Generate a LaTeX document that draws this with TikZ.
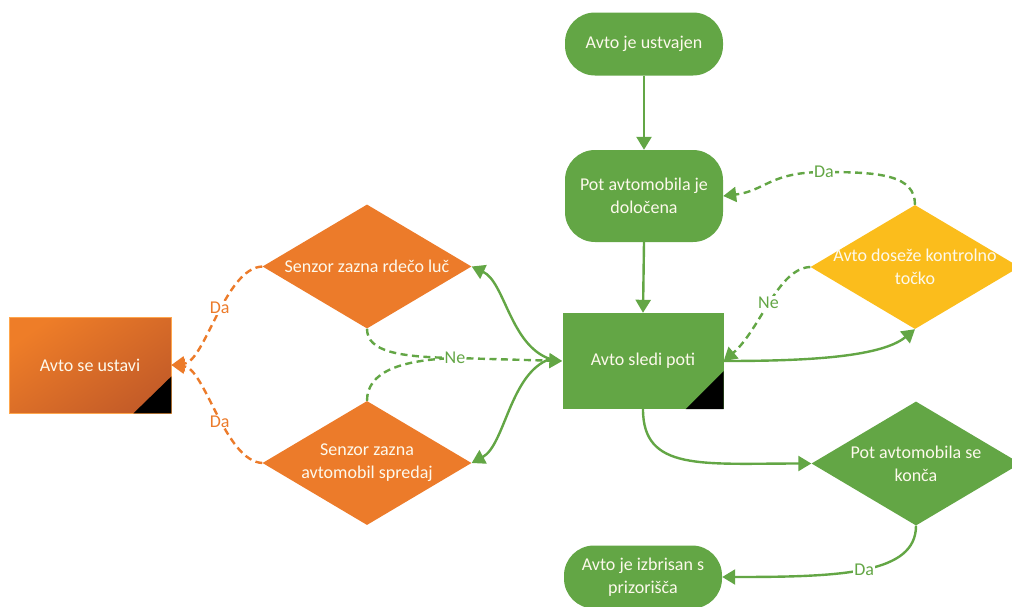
\documentclass[tikz,border=0pt]{standalone}
\usepackage{fontspec}
\setmainfont{Carlito}
\usetikzlibrary{shapes.geometric,arrows.meta,calc}

\definecolor{flowgreen}{RGB}{99,166,69}
\definecolor{floworange}{RGB}{236,123,42}
\definecolor{orangelight}{RGB}{238,125,40}
\definecolor{orangedark}{RGB}{196,92,40}
\definecolor{flowyellow}{RGB}{251,189,28}
\definecolor{textcream}{RGB}{253,249,236}

\begin{document}
\begin{tikzpicture}[x=1pt,y=-1pt,
  txt/.style={font=\fontsize{18}{23}\selectfont, text=textcream, align=center},
  term/.style={txt, fill=flowgreen, rounded corners=30pt, minimum width=158pt,
    inner sep=0pt},
  proc/.style={txt, minimum width=161pt, minimum height=96pt, inner sep=0pt},
  decision/.style={diamond, minimum width=209pt, minimum height=124pt,
    inner sep=0pt},
  tip/.style={-{Triangle[length=13pt,width=15pt]}},
  link/.style={line width=2.4pt, draw=flowgreen, tip},
  dlink/.style={link, dash pattern=on 7pt off 4.5pt},
  olink/.style={line width=2.4pt, draw=floworange, tip,
    dash pattern=on 7pt off 4.5pt},
  lbl/.style={font=\fontsize{18}{20}\selectfont, text=flowgreen, fill=white,
    inner sep=1pt},
  olbl/.style={lbl, text=floworange},
  corner/.style={fill=black}
]
\useasboundingbox (0,0) rectangle (1012,606);

% nodes of the main path
\node[term, minimum height=63pt] (ust) at (644,44) {Avto je ustvajen};
\node[term, minimum height=92pt] (pot) at (644,196) {Pot avtomobila je\\določena};
\node[proc, fill=flowgreen] (sledi) at (643,361) {Avto sledi poti};
\node[term, minimum height=63pt] (izb) at (643,577) {Avto je izbrisan s\\prizorišča};

% decisions
\node[decision, fill=flowyellow,
  label={[txt]center:Avto doseže kontrolno\\točko}] (dos) at (915,267) {};
\node[decision, fill=flowgreen,
  label={[txt]center:Pot avtomobila se\\konča}] (konca) at (916,463.5) {};
\node[decision, fill=floworange,
  label={[txt]center:Senzor zazna rdečo luč}] (rdeco) at (367,266.5) {};
\node[decision, fill=floworange,
  label={[txt]center:Senzor zazna\\avtomobil spredaj}] (spredaj) at (367,463) {};

% stop box
\node[proc, minimum width=162pt, draw=orange!70!white, line width=0.8pt,
  top color=orangelight, bottom color=orangedark, shading angle=35]
  (stop) at (90,365) {Avto se ustavi};

% folded corners
\fill[corner] (sledi.south east) -- ++(-38,0) -- ++(38,-38) -- cycle;
\fill[corner] (stop.south east) -- ++(-38,0) -- ++(38,-37) -- cycle;

% helper points
\coordinate (nejoin) at (455,358);
\coordinate (fan) at (550,359);
\coordinate (datop) at (824,172);

% straight flow
\draw[link] (ust.south) -- (pot.north);
\draw[link] (pot.south) -- (sledi.north);

% sensors back to the path
\draw[dlink, -] (rdeco.south) .. controls (367,352) and (400,357) .. (nejoin);
\draw[dlink, -] (spredaj.north) .. controls (367,372) and (400,360) .. (nejoin);
\draw[dlink] (nejoin) node[lbl] {Ne} -- (sledi.west);

% path to sensors
\draw[link] (fan) .. controls (510,345) and (505,282) .. (rdeco.east);
\draw[link] (fan) .. controls (510,373) and (505,445) .. (spredaj.east);

% sensors to stop
\draw[olink] (rdeco.west) .. controls (225,268) and (205,362) .. (stop.east)
  node[olbl, pos=0.45] {Da};
\draw[olink] (spredaj.west) .. controls (225,461) and (205,368) .. (stop.east)
  node[olbl, pos=0.45] {Da};

% checkpoint loop
\draw[link] (sledi.east) .. controls (800,361) and (880,358) .. (dos.south);
\draw[dlink] (dos.west) .. controls (778,268) and (760,330) .. (sledi.east)
  node[lbl, pos=0.5] {Ne};
\draw[dlink] (dos.north) .. controls (915,175) and (880,172) .. (datop)
  node[lbl] {Da} .. controls (770,172) and (765,191) .. (pot.east);

% end of path
\draw[link] (sledi.south) .. controls +(0,62) and +(-110,0) .. (konca.west);
\draw[link] (konca.south) .. controls +(0,48) and +(120,0) .. (izb.east)
  node[lbl, pos=0.5] {Da};
\end{tikzpicture}
\end{document}
